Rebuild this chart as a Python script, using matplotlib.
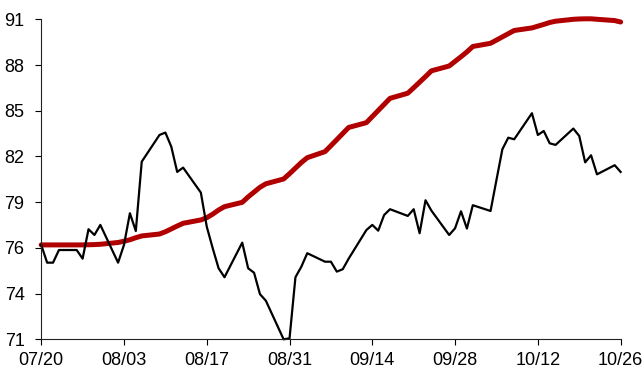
import numpy as np
import pandas as pd
import matplotlib
matplotlib.use("Agg")
import matplotlib.pyplot as plt
import matplotlib.dates as mdates

plt.rcParams['font.family'] = ['Liberation Sans', 'DejaVu Sans']

# trading days 07/20 - 10/26
dates = pd.bdate_range("2021-07-20", "2021-10-26")

daily = [76.90, 75.79, 75.79, 76.58,
         76.58, 76.04, 77.88, 77.52, 78.15,
         75.79, 76.90, 78.88, 77.77, 82.10,
         83.77, 83.92, 83.04, 81.46, 81.73,
         80.17, 78.04, 76.70, 75.44, 74.88,
         77.04, 75.44, 75.16, 73.82, 73.41,
         71.00, 71.06, 74.88, 75.54, 76.38,
         75.85, 75.85, 75.23, 75.38, 76.04,
         77.83, 78.15, 77.79, 78.77, 79.13,
         78.71, 79.13, 77.63, 79.69, 79.04,
         77.52, 77.94, 79.00, 77.92, 79.38,
         79.02, 80.96, 82.88, 83.60, 83.50,
         85.13, 83.77, 84.02, 83.25, 83.15,
         84.17, 83.71, 82.06, 82.50, 81.31,
         81.88, 81.46]

trend = [76.90, 76.90, 76.90, 76.90,
         76.90, 76.90, 76.91, 76.92, 76.94,
         77.05, 77.13, 77.22, 77.35, 77.46,
         77.58, 77.72, 77.90, 78.08, 78.25,
         78.46, 78.60, 78.82, 79.08, 79.29,
         79.56, 79.90, 80.20, 80.50, 80.72,
         81.02, 81.35, 81.70, 82.05, 82.35,
         82.73, 83.10, 83.48, 83.86, 84.24,
         84.54, 84.92, 85.30, 85.68, 86.06,
         86.38, 86.72, 87.07, 87.42, 87.78,
         88.08, 88.37, 88.66, 88.96, 89.30,
         89.50, 89.70, 89.90, 90.10, 90.30,
         90.46, 90.57, 90.68, 90.80, 90.88,
         91.00, 91.02, 91.03, 91.03, 91.00,
         90.92, 90.83]

ytick_vals = np.linspace(71, 91, 8)
ytick_labels = ['71', '74', '76', '79', '82', '85', '88', '91']

fig = plt.figure(figsize=(6.44, 3.76), dpi=100)
ax = fig.add_axes([0.064, 0.0976, 0.8997, 0.8511])

ax.plot(dates, trend, color='#B00000', lw=3.6, solid_capstyle='round', clip_on=False)
ax.plot(dates, daily, color='black', lw=1.6, clip_on=False)

ax.set_xlim(pd.Timestamp("2021-07-20"), pd.Timestamp("2021-10-26"))
ax.set_ylim(71, 91)
ax.xaxis.set_major_locator(mdates.DayLocator(bymonthday=None, interval=14))
ax.set_xticks(pd.date_range("2021-07-20", "2021-10-26", freq="14D"))
ax.xaxis.set_major_formatter(mdates.DateFormatter("%m/%d"))
ax.set_yticks(ytick_vals)
ax.set_yticklabels(ytick_labels)

for s in ['top', 'right']:
    ax.spines[s].set_visible(False)
for s in ['left', 'bottom']:
    ax.spines[s].set_linewidth(0.8)
    ax.spines[s].set_color('#222222')

ax.tick_params(axis='x', direction='out', length=4, width=0.8, pad=5, labelsize=13)
ax.tick_params(axis='y', direction='out', length=4, width=0.8, pad=8, labelsize=13)

fig.savefig("out.png", dpi=100)
